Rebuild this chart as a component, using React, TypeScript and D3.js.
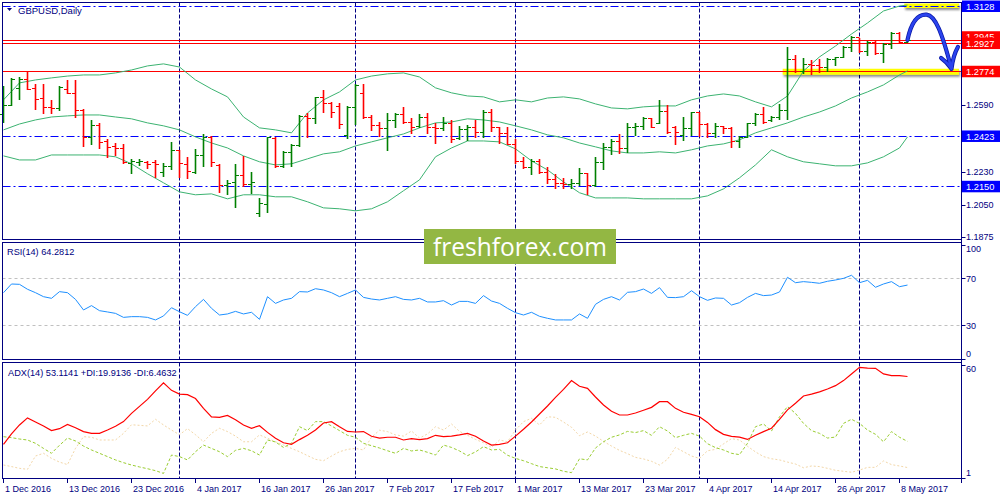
import React, { useEffect, useRef } from 'react';
import * as d3 from 'd3';

// GBPUSD daily bars, 1 Dec 2016 .. 9 May 2017 (weekdays)
const barOpen = [
    1.2543, 1.2592, 1.2684, 1.2732, 1.2684, 1.2629, 1.2581, 1.2575, 1.2678, 1.2657,
    1.2564, 1.2418, 1.2483, 1.2396, 1.2369, 1.2358, 1.2277, 1.2283, 1.2283, 1.2283,
    1.2228, 1.2261, 1.2348, 1.2272, 1.2228, 1.2320, 1.2418, 1.2266, 1.2158, 1.2174,
    1.2212, 1.2163, 1.2006, 1.2055, 1.2413, 1.2261, 1.2337, 1.2375, 1.2532, 1.2521,
    1.2635, 1.2603, 1.2586, 1.2429, 1.2581, 1.2657, 1.2526, 1.2483, 1.2467, 1.2510,
    1.2543, 1.2499, 1.2478, 1.2526, 1.2472, 1.2467, 1.2494, 1.2413, 1.2461, 1.2472,
    1.2445, 1.2553, 1.2472, 1.2440, 1.2380, 1.2288, 1.2256, 1.2288, 1.2228, 1.2191,
    1.2169, 1.2163, 1.2169, 1.2223, 1.2158, 1.2283, 1.2364, 1.2396, 1.2358, 1.2472,
    1.2478, 1.2521, 1.2494, 1.2559, 1.2472, 1.2429, 1.2467, 1.2553, 1.2488, 1.2440,
    1.2478, 1.2467, 1.2396, 1.2418, 1.2494, 1.2543, 1.2510, 1.2526, 1.2564, 1.2841,
    1.2776, 1.2814, 1.2808, 1.2797, 1.2841, 1.2852, 1.2906, 1.2960, 1.2884, 1.2933,
    1.2873, 1.2922, 1.2982, 1.2933,
];
const barHigh = [
    1.2695, 1.2738, 1.2743, 1.2770, 1.2705, 1.2705, 1.2619, 1.2695, 1.2727, 1.2727,
    1.2570, 1.2510, 1.2494, 1.2407, 1.2385, 1.2380, 1.2299, 1.2299, 1.2288, 1.2293,
    1.2277, 1.2391, 1.2348, 1.2310, 1.2353, 1.2434, 1.2423, 1.2272, 1.2185, 1.2272,
    1.2315, 1.2228, 1.2087, 1.2418, 1.2418, 1.2342, 1.2380, 1.2537, 1.2548, 1.2635,
    1.2673, 1.2608, 1.2603, 1.2586, 1.2705, 1.2705, 1.2537, 1.2499, 1.2548, 1.2548,
    1.2581, 1.2521, 1.2543, 1.2548, 1.2494, 1.2526, 1.2510, 1.2478, 1.2483, 1.2510,
    1.2564, 1.2570, 1.2472, 1.2472, 1.2407, 1.2310, 1.2299, 1.2299, 1.2256, 1.2218,
    1.2196, 1.2191, 1.2250, 1.2223, 1.2310, 1.2385, 1.2407, 1.2434, 1.2494, 1.2494,
    1.2526, 1.2521, 1.2619, 1.2592, 1.2478, 1.2526, 1.2553, 1.2553, 1.2494, 1.2494,
    1.2478, 1.2472, 1.2423, 1.2494, 1.2548, 1.2581, 1.2532, 1.2597, 1.2906, 1.2862,
    1.2846, 1.2835, 1.2841, 1.2846, 1.2852, 1.2911, 1.2965, 1.2954, 1.2938, 1.2938,
    1.2927, 1.2987, 1.2987, 1.2949,
];
const barLow = [
    1.2499, 1.2592, 1.2624, 1.2678, 1.2570, 1.2548, 1.2548, 1.2564, 1.2657, 1.2526,
    1.2369, 1.2380, 1.2358, 1.2310, 1.2320, 1.2277, 1.2223, 1.2266, 1.2250, 1.2201,
    1.2207, 1.2245, 1.2201, 1.2196, 1.2223, 1.2261, 1.2261, 1.2120, 1.2109, 1.2039,
    1.2153, 1.2115, 1.1990, 1.2012, 1.2256, 1.2256, 1.2261, 1.2369, 1.2418, 1.2494,
    1.2553, 1.2526, 1.2467, 1.2413, 1.2488, 1.2521, 1.2456, 1.2423, 1.2348, 1.2472,
    1.2494, 1.2440, 1.2472, 1.2440, 1.2385, 1.2456, 1.2391, 1.2407, 1.2402, 1.2418,
    1.2418, 1.2451, 1.2385, 1.2380, 1.2277, 1.2250, 1.2218, 1.2223, 1.2169, 1.2142,
    1.2142, 1.2142, 1.2158, 1.2109, 1.2153, 1.2245, 1.2326, 1.2331, 1.2337, 1.2429,
    1.2461, 1.2472, 1.2494, 1.2440, 1.2380, 1.2402, 1.2429, 1.2423, 1.2418, 1.2418,
    1.2440, 1.2364, 1.2364, 1.2418, 1.2483, 1.2494, 1.2505, 1.2516, 1.2516, 1.2770,
    1.2765, 1.2760, 1.2770, 1.2776, 1.2808, 1.2852, 1.2884, 1.2879, 1.2862, 1.2868,
    1.2824, 1.2900, 1.2927, 1.2933,
];
const barClose = [
    1.2592, 1.2732, 1.2732, 1.2678, 1.2624, 1.2581, 1.2575, 1.2689, 1.2657, 1.2564,
    1.2418, 1.2483, 1.2391, 1.2364, 1.2358, 1.2283, 1.2288, 1.2288, 1.2272, 1.2272,
    1.2261, 1.2348, 1.2277, 1.2234, 1.2320, 1.2418, 1.2283, 1.2158, 1.2169, 1.2212,
    1.2163, 1.2174, 1.2060, 1.2418, 1.2261, 1.2337, 1.2375, 1.2532, 1.2521, 1.2635,
    1.2603, 1.2553, 1.2488, 1.2581, 1.2700, 1.2526, 1.2483, 1.2467, 1.2510, 1.2543,
    1.2499, 1.2472, 1.2526, 1.2472, 1.2467, 1.2494, 1.2407, 1.2461, 1.2472, 1.2445,
    1.2553, 1.2472, 1.2440, 1.2380, 1.2288, 1.2256, 1.2288, 1.2228, 1.2191, 1.2169,
    1.2163, 1.2169, 1.2223, 1.2158, 1.2283, 1.2364, 1.2396, 1.2358, 1.2472, 1.2478,
    1.2521, 1.2472, 1.2559, 1.2445, 1.2445, 1.2467, 1.2553, 1.2488, 1.2440, 1.2478,
    1.2467, 1.2396, 1.2418, 1.2494, 1.2543, 1.2499, 1.2526, 1.2564, 1.2841, 1.2776,
    1.2814, 1.2808, 1.2797, 1.2841, 1.2852, 1.2906, 1.2960, 1.2884, 1.2933, 1.2873,
    1.2922, 1.2982, 1.2933, 1.2945,
];

// Bollinger bands, read on every second bar; the last value belongs to the last bar
const bandUpper = [
    1.2619, 1.2711, 1.2727, 1.2738, 1.2748, 1.2754, 1.2754, 1.2765, 1.2781, 1.2803,
    1.2814, 1.2797, 1.2727, 1.2678, 1.2635, 1.2526, 1.2467, 1.2456, 1.2440, 1.2548,
    1.2619, 1.2662, 1.2727, 1.2748, 1.2760, 1.2765, 1.2743, 1.2684, 1.2657, 1.2640,
    1.2635, 1.2608, 1.2619, 1.2608, 1.2629, 1.2635, 1.2624, 1.2597, 1.2575, 1.2570,
    1.2581, 1.2586, 1.2586, 1.2619, 1.2640, 1.2651, 1.2640, 1.2608, 1.2581, 1.2640,
    1.2776, 1.2852, 1.2911, 1.2976, 1.3036, 1.3101, 1.3128, 1.3133,
];
const bandMiddle = [
    1.2456, 1.2488, 1.2510, 1.2526, 1.2532, 1.2537, 1.2537, 1.2526, 1.2516, 1.2494,
    1.2478, 1.2456, 1.2418, 1.2385, 1.2358, 1.2315, 1.2283, 1.2266, 1.2272, 1.2299,
    1.2326, 1.2337, 1.2369, 1.2391, 1.2413, 1.2434, 1.2467, 1.2494, 1.2499, 1.2516,
    1.2510, 1.2499, 1.2478, 1.2456, 1.2429, 1.2413, 1.2385, 1.2364, 1.2342, 1.2331,
    1.2331, 1.2337, 1.2331, 1.2348, 1.2369, 1.2380, 1.2402, 1.2440, 1.2467, 1.2494,
    1.2526, 1.2553, 1.2586, 1.2629, 1.2662, 1.2700, 1.2754, 1.2776,
];
const bandLower = [
    1.2315, 1.2293, 1.2293, 1.2320, 1.2320, 1.2320, 1.2320, 1.2310, 1.2272, 1.2218,
    1.2169, 1.2120, 1.2104, 1.2109, 1.2082, 1.2104, 1.2104, 1.2093, 1.2093, 1.2066,
    1.2033, 1.2028, 1.2017, 1.2028, 1.2066, 1.2126, 1.2185, 1.2310, 1.2358, 1.2396,
    1.2396, 1.2391, 1.2353, 1.2288, 1.2239, 1.2174, 1.2115, 1.2087, 1.2087, 1.2087,
    1.2082, 1.2082, 1.2082, 1.2082, 1.2098, 1.2136, 1.2196, 1.2266, 1.2348, 1.2310,
    1.2283, 1.2272, 1.2261, 1.2261, 1.2277, 1.2310, 1.2358, 1.2418,
];

const rsiValues = [
    57.8, 65.2, 64.9, 60.7, 57.8, 54.4, 53.0, 58.7, 57.8, 52.1,
    43.1, 46.8, 42.5, 41.4, 40.2, 36.8, 37.4, 37.4, 36.8, 34.6,
    38.0, 45.0, 41.6, 38.5, 45.9, 52.1, 44.5, 38.8, 39.7, 41.9,
    39.7, 41.1, 35.1, 54.4, 48.7, 51.6, 53.0, 58.7, 58.4, 61.2,
    60.1, 57.8, 54.4, 57.2, 60.1, 53.8, 52.4, 51.6, 53.0, 54.4,
    52.1, 51.6, 53.0, 49.9, 49.9, 51.0, 47.3, 50.4, 50.4, 48.7,
    55.3, 50.7, 48.7, 44.5, 40.8, 38.8, 41.1, 37.7, 36.0, 34.6,
    34.6, 34.6, 39.7, 36.0, 47.9, 52.1, 54.4, 51.6, 58.1, 58.7,
    60.9, 57.2, 62.1, 53.8, 53.6, 54.4, 59.5, 54.4, 51.3, 53.3,
    53.0, 47.3, 49.3, 53.8, 57.2, 55.3, 55.8, 58.4, 70.9, 66.3,
    67.2, 66.6, 65.8, 67.5, 68.6, 70.0, 72.6, 66.3, 68.3, 62.4,
    65.2, 67.2, 62.9, 64.3,
];

const adxValues = [
    18.4, 23.7, 28.3, 31.9, 29.8, 27.8, 25.4, 26.4, 28.6, 26.9,
    24.9, 24.0, 24.0, 25.7, 27.6, 30.0, 34.2, 37.8, 41.4, 45.7,
    49.9, 46.0, 44.1, 43.8, 41.8, 36.8, 32.4, 32.2, 33.2, 31.0,
    28.3, 26.6, 27.9, 24.5, 21.5, 19.2, 18.4, 20.8, 23.0, 25.7,
    29.3, 30.0, 27.4, 25.0, 24.7, 24.9, 22.5, 21.6, 22.0, 22.0,
    20.6, 21.3, 20.8, 21.3, 23.0, 22.3, 22.6, 23.2, 24.0, 22.5,
    20.1, 18.0, 18.4, 19.2, 22.6, 26.1, 29.8, 33.9, 38.0, 42.4,
    46.5, 51.0, 48.1, 47.0, 42.6, 38.5, 35.3, 33.4, 33.4, 34.4,
    35.8, 37.3, 40.2, 40.2, 36.8, 34.8, 33.7, 32.5, 29.6, 25.9,
    23.5, 22.5, 22.1, 20.9, 23.0, 24.9, 26.6, 31.2, 36.0, 39.4,
    43.1, 44.1, 45.2, 46.7, 48.4, 51.0, 54.4, 57.8, 57.4, 57.3,
    54.4, 53.5, 53.5, 53.1,
];
const plusDiValues = [
    22.3, 21.8, 21.1, 20.6, 18.9, 16.3, 13.8, 17.9, 21.6, 20.1,
    17.5, 15.5, 13.8, 12.1, 10.4, 9.0, 7.8, 6.8, 5.9, 4.9,
    3.5, 12.9, 12.1, 10.4, 14.6, 18.0, 16.3, 14.6, 12.1, 15.3,
    16.3, 15.1, 12.9, 20.6, 19.6, 16.8, 18.9, 27.4, 25.4, 30.0,
    30.0, 27.8, 25.4, 23.0, 22.0, 18.9, 17.7, 16.5, 15.1, 13.8,
    16.3, 15.0, 15.5, 14.3, 12.9, 18.0, 16.8, 15.0, 12.6, 14.5,
    17.2, 15.5, 15.8, 12.8, 11.2, 10.0, 8.5, 7.0, 6.4, 5.8,
    4.6, 3.9, 11.0, 10.4, 16.5, 19.7, 22.0, 23.2, 25.0, 24.4,
    25.4, 23.0, 27.4, 25.2, 21.8, 23.0, 24.0, 22.6, 18.7, 16.7,
    15.5, 13.8, 13.1, 18.9, 27.4, 28.8, 25.2, 32.5, 37.7, 34.2,
    29.1, 25.4, 24.0, 21.6, 22.1, 29.1, 31.2, 29.1, 25.7, 23.5,
    19.7, 24.9, 22.0, 19.9,
];
const minusDiValues = [
    7.8, 7.0, 6.1, 5.6, 12.4, 13.8, 11.2, 9.3, 8.0, 16.3,
    22.3, 22.0, 20.6, 20.6, 20.6, 24.0, 28.4, 28.1, 27.8, 31.2,
    28.3, 25.7, 23.3, 26.4, 23.3, 19.7, 24.0, 26.6, 24.9, 22.6,
    19.7, 19.7, 23.2, 21.5, 19.7, 18.0, 16.3, 14.6, 12.6, 10.7,
    10.0, 12.4, 14.6, 15.8, 16.3, 15.5, 22.0, 25.6, 24.9, 23.2,
    22.6, 25.2, 21.6, 23.7, 27.4, 25.7, 28.8, 25.0, 23.0, 20.9,
    19.2, 16.8, 20.6, 19.7, 25.7, 30.0, 31.7, 28.3, 32.5, 32.2,
    29.8, 27.1, 22.8, 24.7, 22.6, 19.9, 17.5, 15.3, 13.6, 11.7,
    10.9, 9.7, 7.8, 10.7, 16.8, 14.6, 12.4, 11.2, 15.1, 15.8,
    18.6, 21.3, 20.6, 17.4, 14.5, 12.1, 11.0, 10.4, 9.3, 8.3,
    6.4, 7.3, 7.0, 6.1, 5.1, 4.6, 4.1, 5.2, 6.6, 6.6,
    9.9, 8.0, 7.3, 6.5,
];

// date labels sit on every 8th bar
const dateLabels = [
    '1 Dec 2016', '13 Dec 2016', '23 Dec 2016', '4 Jan 2017', '16 Jan 2017',
    '26 Jan 2017', '7 Feb 2017', '17 Feb 2017', '1 Mar 2017', '13 Mar 2017',
    '23 Mar 2017', '4 Apr 2017', '14 Apr 2017', '26 Apr 2017', '8 May 2017',
];
const priceTicks = [1.2590, 1.2230, 1.2050, 1.1875];
const blueLevels = [1.3128, 1.2423, 1.2150];
const redLevels = [1.2945, 1.2927, 1.2774];
const rsiLevels = [70, 30];
const rsiTicks = [100, 70, 30, 0];
const adxTicks = [60, 1];
const chartTitle = 'GBPUSD,Daily';
const rsiTitle = 'RSI(14) 64.2812';
const adxTitle = 'ADX(14) 53.1141 +DI:19.9136 -DI:6.4632';

const ForexChart: React.FC = () => {
    const chartRef = useRef<SVGSVGElement>(null);

    useEffect(() => {
        const svg = d3.select(chartRef.current);
        svg.selectAll("*").remove();

        const navy = "#000080";
        const font = "'Liberation Sans', Arial, sans-serif";
        const left = 2.5;
        const right = 961.5;
        const panels: [number, number][] = [[2.5, 239.5], [242.5, 359.5], [362.5, 478.5]];

        const days = d3.timeDay.range(new Date(2016, 11, 1), new Date(2017, 4, 10))
            .filter(d => d.getDay() % 6 !== 0);
        const n = barClose.length;
        const monthStarts = days.map((_, i) => i)
            .filter(i => i > 0 && days[i].getMonth() !== days[i - 1].getMonth());

        const x = d3.scaleLinear().domain([0, n - 1]).range([3.5, 907.5]);
        const y = d3.scaleLinear().domain([1.1875, 1.3128]).range([237, 6]);
        const yRsi = d3.scaleLinear().domain([0, 100]).range([360.6, 243.1]);
        const yAdx = d3.scaleLinear().domain([1, 60]).range([478.3, 363]);
        const crisp = (v: number) => Math.round(v) + 0.5;

        svg.append("rect").attr("width", 1000).attr("height", 500).attr("fill", "#fff");

        const defs = svg.append("defs");
        defs.append("filter").attr("id", "hlShadow")
            .attr("x", "-5%").attr("y", "-100%").attr("width", "110%").attr("height", "400%")
            .append("feDropShadow")
            .attr("dx", 1).attr("dy", 2).attr("stdDeviation", 1.3)
            .attr("flood-color", "#000").attr("flood-opacity", 0.45);

        // month separators
        panels.forEach(([top, bottom]) => {
            svg.append("g").selectAll("line")
                .data(monthStarts)
                .enter().append("line")
                .attr("x1", d => x(d)).attr("x2", d => x(d))
                .attr("y1", top).attr("y2", bottom)
                .attr("stroke", navy).attr("stroke-dasharray", "4,2");
        });

        // yellow highlights
        const hl = svg.append("g").attr("filter", "url(#hlShadow)");
        hl.append("rect")
            .attr("x", x(97.4)).attr("y", y(1.2774) - 2.5)
            .attr("width", 959 - x(97.4)).attr("height", 6)
            .attr("fill", "#ffff00");
        hl.append("rect")
            .attr("x", x(112.6)).attr("y", y(1.3128) - 2.5)
            .attr("width", 959 - x(112.6)).attr("height", 4.5)
            .attr("fill", "#ffff00");

        // horizontal levels
        svg.append("g").selectAll("line")
            .data(redLevels)
            .enter().append("line")
            .attr("x1", left).attr("x2", right)
            .attr("y1", d => crisp(y(d))).attr("y2", d => crisp(y(d)))
            .attr("stroke", "#ff0000");
        svg.append("g").selectAll("line")
            .data(blueLevels)
            .enter().append("line")
            .attr("x1", left).attr("x2", right)
            .attr("y1", d => crisp(y(d))).attr("y2", d => crisp(y(d)))
            .attr("stroke", "#0000ff").attr("stroke-dasharray", "8,3,2,3");

        // Bollinger bands
        const bandLine = d3.line<number>()
            .x((_, k) => x(Math.min(k * 2, n - 1)))
            .y(d => y(d));
        [bandUpper, bandMiddle, bandLower].forEach(band => {
            svg.append("path")
                .attr("d", bandLine(band))
                .attr("fill", "none")
                .attr("stroke", "#3cb371")
                .attr("stroke-width", 1);
        });

        // OHLC bars
        const bars = svg.append("g");
        d3.range(n).forEach(i => {
            const color = barClose[i] >= barOpen[i] ? "#008000" : "#ff0000";
            const g = bars.append("g").attr("stroke", color);
            const xi = x(i);
            g.append("line")
                .attr("x1", xi).attr("x2", xi)
                .attr("y1", Math.round(y(barHigh[i]))).attr("y2", Math.round(y(barLow[i])) + 1)
                .attr("stroke-width", 1.6);
            g.append("line")
                .attr("x1", xi - 3.5).attr("x2", xi)
                .attr("y1", crisp(y(barOpen[i]))).attr("y2", crisp(y(barOpen[i])))
                .attr("stroke-width", 1);
            g.append("line")
                .attr("x1", xi).attr("x2", xi + 3.5)
                .attr("y1", crisp(y(barClose[i]))).attr("y2", crisp(y(barClose[i])))
                .attr("stroke-width", 1);
        });

        // hand drawn arrow
        const arrow = d3.path();
        arrow.moveTo(x(113), y(1.2944));
        arrow.bezierCurveTo(x(113.6), y(1.3068), x(114.6), y(1.3084), x(115.4), y(1.3081));
        arrow.bezierCurveTo(x(116.5), y(1.3075), x(117.3), y(1.2985), x(118.5), y(1.2787));
        arrow.moveTo(x(117.2), y(1.2846));
        arrow.quadraticCurveTo(x(117.9), y(1.2825), x(118.5), y(1.2787));
        arrow.quadraticCurveTo(x(118.7), y(1.2860), x(119.3), y(1.2906));
        svg.append("path")
            .attr("d", arrow.toString())
            .attr("fill", "none")
            .attr("stroke", "#0a1aa8")
            .attr("stroke-width", 4.2)
            .attr("stroke-linecap", "round").attr("stroke-linejoin", "round");
        svg.append("path")
            .attr("d", arrow.toString())
            .attr("fill", "none")
            .attr("stroke", "#2b43ee")
            .attr("stroke-width", 2.6)
            .attr("stroke-linecap", "round").attr("stroke-linejoin", "round");

        // RSI panel
        svg.append("g").selectAll("line")
            .data(rsiLevels)
            .enter().append("line")
            .attr("x1", left).attr("x2", right)
            .attr("y1", d => crisp(yRsi(d))).attr("y2", d => crisp(yRsi(d)))
            .attr("stroke", "#c0c0c0").attr("stroke-dasharray", "3,3");
        svg.append("path")
            .attr("d", d3.line<number>().x((_, i) => x(i)).y(d => yRsi(d))(rsiValues))
            .attr("fill", "none").attr("stroke", "#1e90ff").attr("stroke-width", 1);

        // ADX panel
        svg.append("path")
            .attr("d", d3.line<number>().x((_, i) => x(i)).y(d => yAdx(d))(minusDiValues))
            .attr("fill", "none").attr("stroke", "#f3d7a8").attr("stroke-width", 1)
            .attr("stroke-dasharray", "2,2");
        svg.append("path")
            .attr("d", d3.line<number>().x((_, i) => x(i)).y(d => yAdx(d))(plusDiValues))
            .attr("fill", "none").attr("stroke", "#9acd32").attr("stroke-width", 1)
            .attr("stroke-dasharray", "3,2");
        svg.append("path")
            .attr("d", d3.line<number>().x((_, i) => x(i)).y(d => yAdx(d))(adxValues))
            .attr("fill", "none").attr("stroke", "#ff0000").attr("stroke-width", 1.2);

        // panel frames and right axis
        panels.forEach(([top, bottom]) => {
            svg.append("rect")
                .attr("x", left).attr("y", top)
                .attr("width", right - left).attr("height", bottom - top)
                .attr("fill", "none").attr("stroke", navy);
        });
        svg.append("line")
            .attr("x1", right).attr("x2", right).attr("y1", 2.5).attr("y2", 483)
            .attr("stroke", navy);

        const axisText = (sel: d3.Selection<SVGGElement, unknown, null, undefined>) =>
            sel.attr("font-family", font).attr("font-size", 9).attr("fill", navy);

        // price ticks
        const pt = svg.append("g").call(axisText);
        priceTicks.forEach(v => {
            pt.append("line")
                .attr("x1", right).attr("x2", right + 4)
                .attr("y1", crisp(y(v))).attr("y2", crisp(y(v)))
                .attr("stroke", navy);
            pt.append("text")
                .attr("x", 966).attr("y", y(v) + 3.3)
                .text(d3.format(".4f")(v));
        });

        // boxed level labels; MT4 pushes the upper of two crowded labels up a little
        const boxes = [
            ...redLevels.map(v => ({ v, fill: "#ff0000" })),
            ...blueLevels.map(v => ({ v, fill: "#0000ff" })),
        ];
        boxes.forEach((b, k) => {
            const cy = y(b.v) - (k === 0 ? 3 : 0);
            svg.append("rect")
                .attr("x", 962).attr("y", cy - 5.5)
                .attr("width", 38).attr("height", 11.5)
                .attr("fill", b.fill);
            svg.append("text")
                .attr("x", 966).attr("y", cy + 3.6)
                .attr("font-family", font).attr("font-size", 9.3)
                .attr("fill", "#fff")
                .text(d3.format(".4f")(b.v));
        });

        // indicator scales
        const indicatorTicks = (ticks: number[], scale: d3.ScaleLinear<number, number>, top: number, bottom: number) => {
            const g = svg.append("g").call(axisText);
            ticks.forEach(v => {
                const py = scale(v);
                const ty = Math.min(Math.max(py, top + 6), bottom - 6);
                const tickY = crisp(Math.min(Math.max(py, top + 2), bottom - 1));
                g.append("line")
                    .attr("x1", right).attr("x2", right + 4)
                    .attr("y1", tickY).attr("y2", tickY)
                    .attr("stroke", navy);
                g.append("text")
                    .attr("x", 966).attr("y", ty + 3.3)
                    .text(String(v));
            });
        };
        indicatorTicks(rsiTicks, yRsi, panels[1][0], panels[1][1]);
        indicatorTicks(adxTicks, yAdx, panels[2][0], panels[2][1]);

        // date axis
        const dg = svg.append("g").call(axisText);
        dateLabels.forEach((label, k) => {
            const xi = x(k * 8);
            dg.append("line")
                .attr("x1", xi).attr("x2", xi).attr("y1", 479).attr("y2", 483)
                .attr("stroke", navy);
            dg.append("text")
                .attr("x", xi + 1.5).attr("y", 492)
                .text(label);
        });

        // panel titles
        svg.append("path")
            .attr("d", "M7,8 L12,8 L9.5,11 Z")
            .attr("fill", navy);
        svg.append("text")
            .attr("x", 18).attr("y", 14)
            .attr("font-family", font).attr("font-size", 9.5).attr("fill", navy)
            .text(chartTitle);
        svg.append("text")
            .attr("x", 7).attr("y", 255)
            .attr("font-family", font).attr("font-size", 9.2).attr("fill", navy)
            .text(rsiTitle);
        svg.append("text")
            .attr("x", 8).attr("y", 375.5)
            .attr("font-family", font).attr("font-size", 9.2).attr("fill", navy)
            .text(adxTitle);

        // watermark
        svg.append("rect")
            .attr("x", 424).attr("y", 229).attr("width", 192).attr("height", 35)
            .attr("fill", "#93b743");
        svg.append("text")
            .attr("x", 433).attr("y", 256)
            .attr("font-family", "'Open Sans', 'Noto Sans', sans-serif")
            .attr("font-size", 26)
            .attr("fill", "#fff")
            .attr("textLength", 174).attr("lengthAdjust", "spacingAndGlyphs")
            .text("freshforex.com");
    }, []);

    return <svg ref={chartRef} width="1000" height="500" style={{ display: "block" }}></svg>;
};

export default function App() {
    return (
        <div style={{ position: "fixed", left: 0, top: 0, width: 1000, height: 500, background: "#fff" }}>
            <ForexChart />
        </div>
    );
}
